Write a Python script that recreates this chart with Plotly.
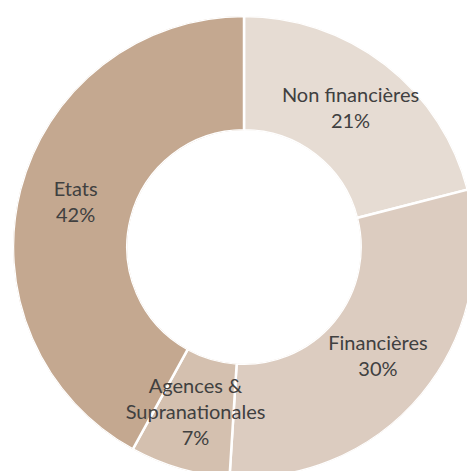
import plotly.graph_objects as go
import numpy as np

# ---- data ----
categories = ["Non financières", "Financières", "Agences & Supranationales", "Etats"]
label_lines = ["Non financières", "Financières", "Agences &<br>Supranationales", "Etats"]
values = [21, 30, 7, 42]
colors = ["#E6DCD3", "#DCCCC0", "#D4C0AF", "#C4A890"]

HOLE = 0.505
total = sum(values)
cum = np.cumsum(values)
mid_theta = [360.0 * (c - v / 2.0) / total for c, v in zip(cum, values)]
widths = [360.0 * v / total for v in values]
texts = [f"{l}<br>{v}%" for l, v in zip(label_lines, values)]

fig = go.Figure()
fig.add_trace(go.Barpolar(
    r=[1] * len(values), theta=mid_theta, width=widths,
    marker=dict(color=colors, line=dict(color="white", width=2.5)),
    customdata=categories, hovertemplate="%{customdata}<extra></extra>",
    showlegend=False,
))
fig.add_trace(go.Scatterpolar(
    r=[0.5] * len(values), theta=mid_theta, mode="text", text=texts,
    textfont=dict(family="Lato", size=20, color="#404040"),
    showlegend=False, hoverinfo="skip",
))
fig.update_layout(
    width=475, height=478,
    margin=dict(l=13, r=0, t=16, b=0),
    paper_bgcolor="white", plot_bgcolor="white", showlegend=False,
    polar=dict(
        domain=dict(x=[0, 1], y=[0, 1]),
        bgcolor="rgba(0,0,0,0)", hole=HOLE, bargap=0,
        radialaxis=dict(visible=False, range=[0, 1]),
        angularaxis=dict(visible=False, rotation=90, direction="clockwise"),
    ),
)
fig.write_html(
    "out.html",
    config={"displayModeBar": False},
    post_script="document.body.style.margin='0';document.body.style.overflow='hidden';"
                "document.documentElement.style.overflow='hidden';",
)
